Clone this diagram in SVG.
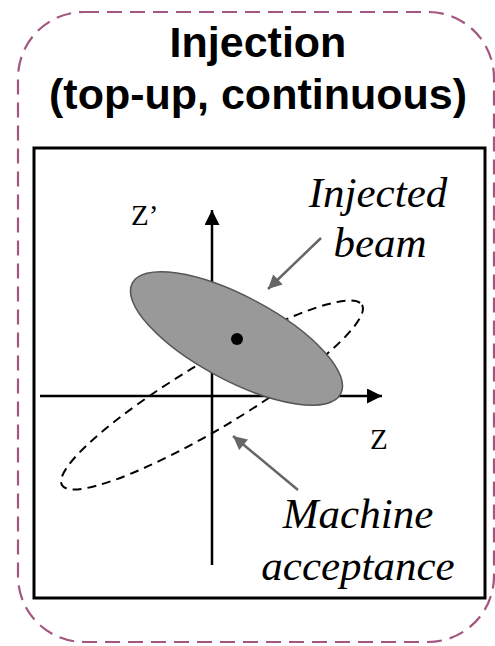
<svg xmlns="http://www.w3.org/2000/svg" width="495" height="646" viewBox="0 0 495 646">
<style>
.title{font-family:"Liberation Sans",Arial,sans-serif;font-weight:bold;font-size:43px;fill:#000;text-anchor:middle}
.lbl{font-family:"Liberation Serif","Times New Roman",serif;font-style:italic;font-size:43px;fill:#000;text-anchor:middle}
.ax{font-family:"Liberation Serif","Times New Roman",serif;font-size:29px;fill:#000}
.axis{stroke:#000;stroke-width:2.5;fill:none}
.ptr{stroke:#666;stroke-width:2.5;fill:none}
</style>
<defs>
<marker id="ah" viewBox="0 0 10 10" refX="10" refY="5" markerWidth="6" markerHeight="6" markerUnits="strokeWidth" orient="auto">
<path d="M0,0 L10,5 L0,10 z" fill="#000"/>
</marker>
<marker id="gh" viewBox="0 0 10 10" refX="10" refY="5" markerWidth="6.5" markerHeight="5.5" markerUnits="strokeWidth" orient="auto">
<path d="M0,0 L10,5 L0,10 z" fill="#666"/>
</marker>
</defs>
<rect id="frame" x="18" y="12" width="476" height="630" rx="66" ry="66" fill="none" stroke="#a3567f" stroke-width="2.2" stroke-dasharray="15 8"/>
<g id="title">
<text class="title" x="258" y="57">Injection</text>
<text class="title" x="258" y="109">(top-up, continuous)</text>
</g>
<rect id="panel" x="34" y="148" width="451" height="450" fill="#fff" stroke="#000" stroke-width="3"/>
<g id="axes">
<line class="axis" x1="212" y1="565" x2="212" y2="210" marker-end="url(#ah)"/>
<line class="axis" x1="40" y1="396" x2="382" y2="396" marker-end="url(#ah)"/>
<text class="ax" x="131" y="225">Z’</text>
<text class="ax" x="370" y="449">Z</text>
</g>
<g id="acceptance">
<ellipse cx="212" cy="395" rx="175" ry="33" transform="rotate(-31 212 395)" fill="none" stroke="#000" stroke-width="2" stroke-dasharray="9 6"/>
</g>
<g id="beam">
<ellipse cx="236.5" cy="338.5" rx="118" ry="42" transform="rotate(28 236.5 338.5)" fill="#999" stroke="#555" stroke-width="1.5"/>
<circle cx="237" cy="339" r="6" fill="#000"/>
</g>
<g id="connectors">
<line class="ptr" x1="321" y1="238" x2="268" y2="289" marker-end="url(#gh)"/>
<line class="ptr" x1="298" y1="490" x2="233" y2="436" marker-end="url(#gh)"/>
</g>
<g id="labels">
<text class="lbl" x="378" y="207">Injected</text>
<text class="lbl" x="380" y="257">beam</text>
<text class="lbl" x="358" y="528">Machine</text>
<text class="lbl" x="358" y="580">acceptance</text>
</g>
</svg>
